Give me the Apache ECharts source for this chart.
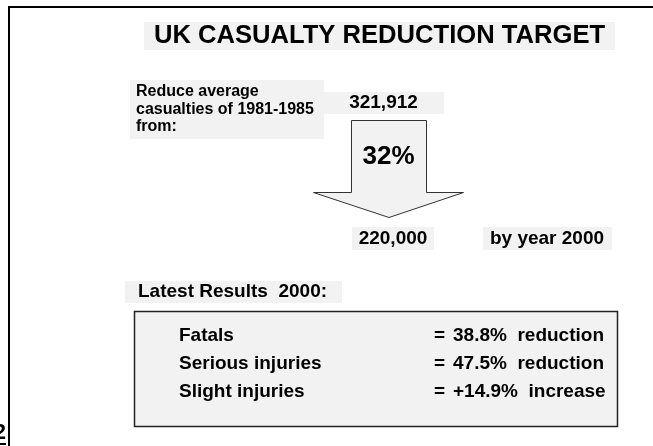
<!DOCTYPE html>
<html>
<head>
<meta charset="utf-8">
<script src="https://cdn.jsdelivr.net/npm/echarts@6/dist/echarts.min.js"></script>
<style>
  html, body { margin: 0; padding: 0; background: #fff; }
  #chart { width: 653px; height: 446px; }
</style>
</head>
<body>
<div id="chart"></div>
<script>
// ---- data ----
const titleText = 'UK CASUALTY REDUCTION TARGET';
const introLines = ['Reduce average', 'casualties of 1981-1985', 'from:'];
const baselineCasualties = 321912;
const targetCasualties = 220000;
const reductionPct = 32;
const targetYearText = 'by year 2000';
const resultsHeading = 'Latest Results  2000:';
const resultCategories = ['Fatals', 'Serious injuries', 'Slight injuries'];
const resultChanges = [-38.8, -47.5, 14.9];
const pageNumber = '2';

// ---- helpers ----
const FONT = '"Liberation Sans", Arial, sans-serif';
const BOX = '#f2f2f2';
function fmt(n) { return n.toLocaleString('en-GB'); }
function changeText(v) {
  return v < 0 ? Math.abs(v).toFixed(1) + '%  reduction' : '+' + v.toFixed(1) + '%  increase';
}
function box(x, y, w, h, extra) {
  return Object.assign({ type: 'rect', shape: { x: x, y: y, width: w, height: h },
    style: { fill: BOX }, silent: true }, extra || {});
}
function txt(s, x, y, size, align, vAlign, extra) {
  return Object.assign({ type: 'text', silent: true,
    style: { text: s, x: x, y: y, font: 'bold ' + size + 'px ' + FONT, fill: '#000',
      align: align || 'left', verticalAlign: vAlign || 'middle' } }, extra || {});
}

const g = [];
// slide frame
g.push({ type: 'rect', shape: { x: 8, y: 6, width: 645, height: 2 }, style: { fill: '#000' }, silent: true });
g.push({ type: 'rect', shape: { x: 8, y: 6, width: 2, height: 440 }, style: { fill: '#000' }, silent: true });
// page number (cut off)
g.push(txt(pageNumber, 6, 444, 22, 'right', 'bottom'));
g.push({ type: 'rect', shape: { x: 0, y: 443, width: 6, height: 2 }, style: { fill: '#000' }, silent: true });

// title
g.push(box(144, 22, 471, 28));
g.push(txt(titleText, 379.5, 36, 25.6, 'center', 'middle'));

// intro
g.push(box(130, 80, 194, 59));
g.push({ type: 'text', silent: true, style: { text: introLines.join('\n'), x: 136, y: 83,
  font: 'bold 16px ' + FONT, fill: '#000', lineHeight: 17.5, align: 'left', verticalAlign: 'top' } });

// baseline
g.push(box(323, 92, 121, 22));
g.push(txt(fmt(baselineCasualties), 383.5, 103, 19, 'center', 'middle'));

// arrow
g.push({ type: 'polygon', silent: true,
  shape: { points: [[351.5, 120.5], [426.5, 120.5], [426.5, 192.5], [463.5, 192.5], [389, 217.5], [313.5, 192.5], [351.5, 192.5]] },
  style: { fill: BOX, stroke: '#333', lineWidth: 1 } });
g.push(txt(reductionPct + '%', 388.5, 157, 26, 'center', 'middle'));

// target
g.push(box(352, 227, 82, 23));
g.push(txt(fmt(targetCasualties), 393, 238.5, 19, 'center', 'middle'));
g.push(box(483, 227, 129, 23));
g.push(txt(targetYearText, 547, 238.5, 19, 'center', 'middle'));

// latest results
g.push(box(125, 281, 217, 22));
g.push(txt(resultsHeading, 138, 292, 19, 'left', 'middle'));
g.push({ type: 'rect', silent: true, shape: { x: 134.5, y: 311.5, width: 483, height: 115 },
  style: { fill: BOX, stroke: '#222', lineWidth: 1.5 } });
resultCategories.forEach(function (c, i) {
  const y = 336 + i * 28;
  g.push(txt(c, 179, y, 19, 'left', 'middle'));
  g.push(txt('=', 434, y, 19, 'left', 'middle'));
  g.push(txt(changeText(resultChanges[i]), 453, y, 19, 'left', 'middle'));
});

const chart = echarts.init(document.getElementById('chart'), null, { renderer: 'canvas' });
chart.setOption({ backgroundColor: '#fff', animation: false, graphic: g });
</script>
</body>
</html>
